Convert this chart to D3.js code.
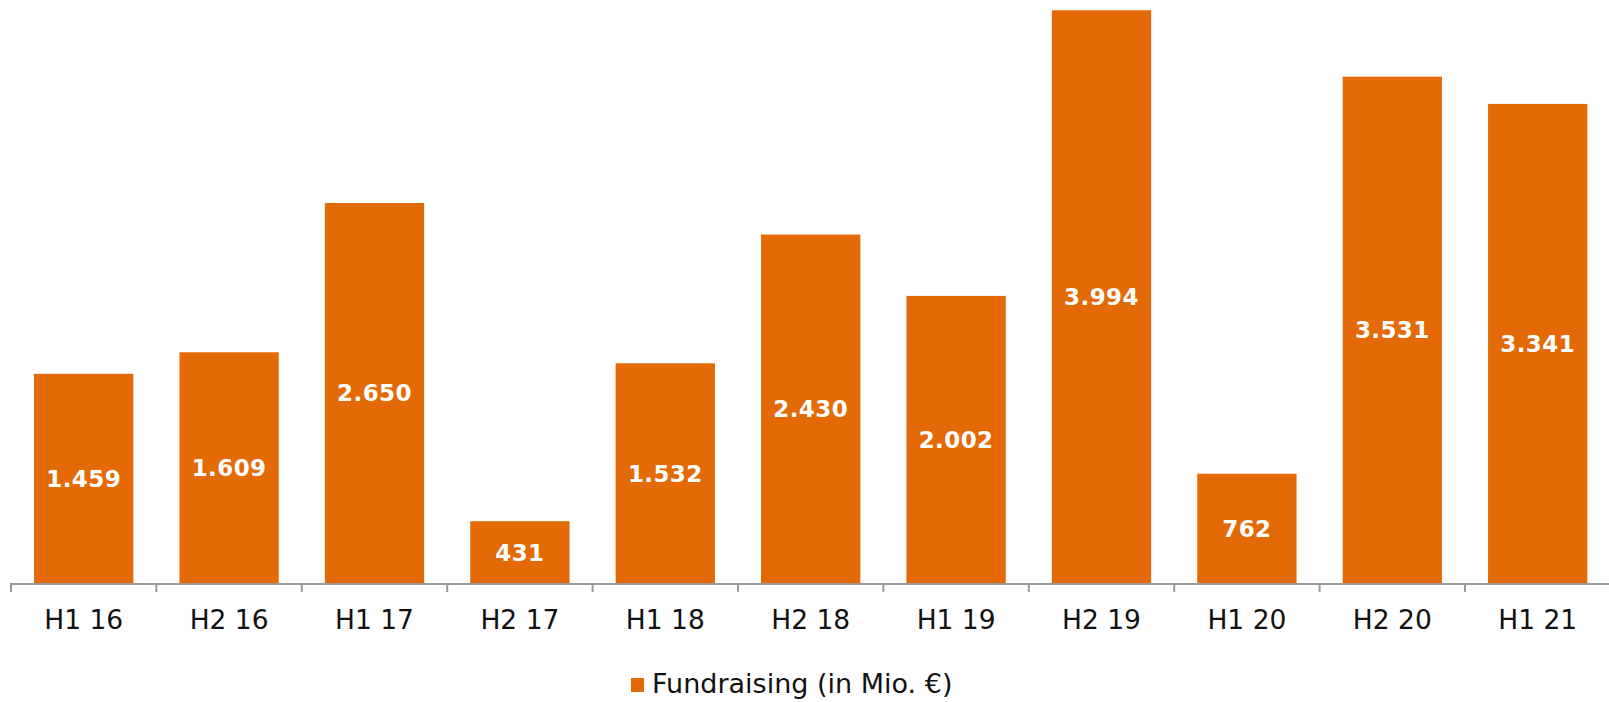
<!DOCTYPE html>
<html>
<head>
<meta charset="utf-8">
<script src="https://cdn.jsdelivr.net/npm/d3@7"></script>
<style>
  html, body { margin: 0; padding: 0; background: #fff; }
  svg { display: block; }
</style>
</head>
<body>
<svg id="chart" width="1609" height="702"></svg>
<script>
const categories = ["H1 16", "H2 16", "H1 17", "H2 17", "H1 18", "H2 18", "H1 19", "H2 19", "H1 20", "H2 20", "H1 21"];
const values = [1459, 1609, 2650, 431, 1532, 2430, 2002, 3994, 762, 3531, 3341];
const valueLabels = ["1.459", "1.609", "2.650", "431", "1.532", "2.430", "2.002", "3.994", "762", "3.531", "3.341"];
const seriesName = "Fundraising (in Mio. €)";

const color = "#E46A07";
const font = "Verdana, 'DejaVu Sans', sans-serif";
const svg = d3.select("#chart");

const x0 = 11, x1 = 1610.4;
const x = d3.scaleBand().domain(categories).range([x0, x1]).paddingInner(0.317).paddingOuter(0.1585);
const y = d3.scaleLinear().domain([0, 4000]).range([583, 9.4]);

svg.append("g").selectAll("rect").data(values).join("rect")
  .attr("x", (d, i) => x(categories[i]))
  .attr("y", d => y(d))
  .attr("width", x.bandwidth())
  .attr("height", d => y(0) - y(d))
  .attr("fill", color);

svg.append("g").selectAll("text").data(values).join("text")
  .attr("x", (d, i) => x(categories[i]) + x.bandwidth() / 2)
  .attr("y", d => (y(d) + y(0)) / 2 + 8.5)
  .attr("text-anchor", "middle")
  .attr("font-family", font)
  .attr("font-weight", "bold")
  .attr("font-size", 23)
  .attr("letter-spacing", 0.4)
  .attr("fill", "#fff")
  .text((d, i) => valueLabels[i]);

// axis
const step = x.step();
const axis = svg.append("g").attr("stroke", "#9a9a9a").attr("stroke-width", 2);
axis.append("line").attr("x1", 10).attr("x2", 1609).attr("y1", 584).attr("y2", 584);
axis.selectAll("line.tick").data(d3.range(categories.length)).join("line")
  .attr("class", "tick")
  .attr("x1", i => x0 + i * step).attr("x2", i => x0 + i * step)
  .attr("y1", 584).attr("y2", 592);

svg.append("g").selectAll("text").data(categories).join("text")
  .attr("x", d => x(d) + x.bandwidth() / 2)
  .attr("y", 629)
  .attr("text-anchor", "middle")
  .attr("font-family", font)
  .attr("font-size", 26.5)
  .attr("fill", "#111")
  .text(d => d);

// legend
const lg = svg.append("g");
lg.append("rect").attr("x", 631).attr("y", 678).attr("width", 13).attr("height", 14).attr("fill", color);
lg.append("text").attr("x", 652).attr("y", 693)
  .attr("font-family", font).attr("font-size", 27).attr("fill", "#111")
  .text(seriesName);
</script>
</body>
</html>
